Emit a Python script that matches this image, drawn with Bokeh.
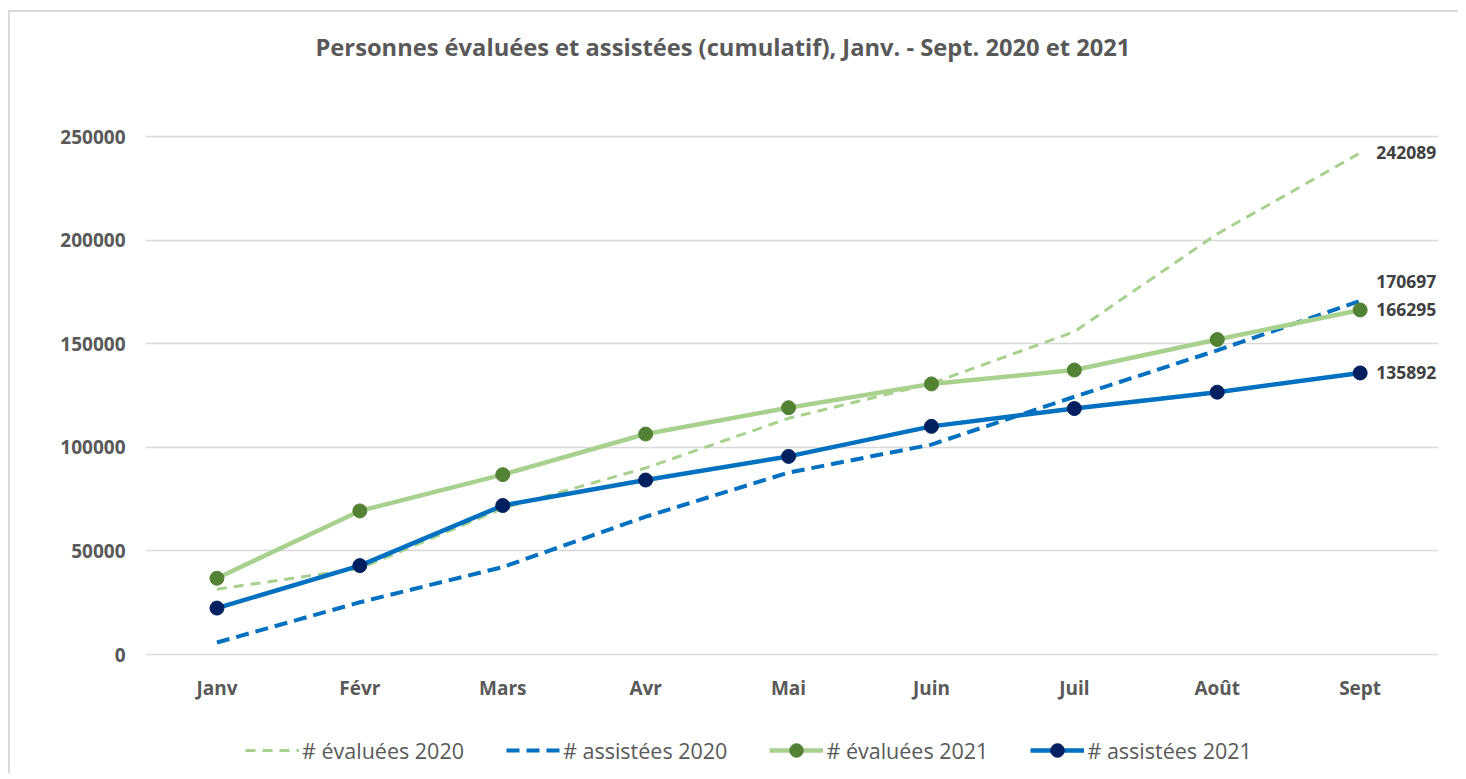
from bokeh.plotting import figure
from bokeh.models import (ColumnDataSource, Range1d, FixedTicker, Label,
                          BasicTickFormatter, Legend, LegendItem, LabelSet)
from bokeh.core.properties import value
from bokeh.embed import file_html
from bokeh.resources import INLINE

# ---------------- data ----------------
months = ["Janv", "Févr", "Mars", "Avr", "Mai", "Juin", "Juil", "Août", "Sept"]
evaluees_2020 = [31500, 41500, 70500, 90000, 114000, 130800, 155800, 203000, 242089]
assistees_2020 = [5800, 25200, 42200, 66500, 87800, 101300, 124400, 146800, 170697]
evaluees_2021 = [36800, 69300, 86800, 106400, 119100, 130600, 137300, 152000, 166295]
assistees_2021 = [22400, 42900, 71900, 84200, 95600, 110100, 118700, 126600, 135892]
y_ticks = [0, 50000, 100000, 150000, 200000, 250000]
series_names = ["# évaluées 2020", "# assistées 2020", "# évaluées 2021", "# assistées 2021"]
title_text = "Personnes évaluées et assistées (cumulatif), Janv. - Sept. 2020 et 2021"

# ---------------- styles / layout ----------------
FONT = "Open Sans"
TXT = "#595959"
LIGHT_GREEN = "#A9D18E"
DARK_GREEN = "#548235"
BLUE = "#0070C0"
NAVY = "#002060"
GRID = "#D9D9D9"

W, H = 1450, 763
TOP, BOTTOM, LEFT, RIGHT = 2, 4, 135, 22
ZERO_Y = 642.0      # canvas pixel row of the value 0
PLOT_H = 518.0      # pixel height of the 0..max value band
CAT_W = 142.9       # pixel width of one month slot
frame_w = W - LEFT - RIGHT
frame_h = H - TOP - BOTTOM
y_max = y_ticks[-1]
y_top = y_max * (ZERO_Y - TOP) / PLOT_H             # room above for the title
y_bottom = -y_max * (H - BOTTOM - ZERO_Y) / PLOT_H  # room below for labels + legend
x_start = -0.5
x_end = x_start + frame_w / CAT_W                   # room right of Sept for value labels

x_idx = list(range(len(months)))
src = ColumnDataSource(dict(x=x_idx, month=months, e20=evaluees_2020, a20=assistees_2020,
                            e21=evaluees_2021, a21=assistees_2021))

p = figure(width=W, height=H, x_range=Range1d(x_start, x_end),
           y_range=Range1d(y_bottom, y_top), output_backend="svg", toolbar_location=None,
           min_border_left=LEFT, min_border_right=RIGHT, min_border_top=TOP,
           min_border_bottom=BOTTOM)
p.title = None
p.styles = {"margin-top": "10px", "margin-left": "8px",
            "border-top": "2px solid #D9D9D9", "border-left": "2px solid #D9D9D9"}

# chart title (drawn inside the extended frame, in screen pixels from frame bottom-left)
p.add_layout(Label(x=170, y=frame_h - 32, x_units="screen", y_units="screen",
                   text=title_text, text_font=FONT, text_font_size="23.7px",
                   text_font_style="bold", text_color=TXT, text_baseline="middle",
                   text_align="left"))

p.outline_line_color = None
p.xgrid.grid_line_color = None
p.ygrid.grid_line_color = GRID
p.ygrid.grid_line_width = 1.5

p.yaxis.ticker = FixedTicker(ticks=y_ticks)
p.yaxis.formatter = BasicTickFormatter(use_scientific=False)
p.xaxis.ticker = FixedTicker(ticks=x_idx)
p.xaxis.major_label_overrides = {i: m for i, m in zip(x_idx, months)}
p.xaxis.fixed_location = 0
for ax in (p.xaxis, p.yaxis):
    ax.axis_line_color = None
    ax.major_tick_line_color = None
    ax.minor_tick_line_color = None
    ax.major_tick_out = 0
    ax.major_tick_in = 0
    ax.major_label_text_font = FONT
    ax.major_label_text_font_style = "bold"
    ax.major_label_text_color = TXT
    ax.major_label_text_font_size = "19px"
p.yaxis.major_label_standoff = 20
p.xaxis.major_label_standoff = 20

r_e20 = p.line("x", "e20", source=src, line_color=LIGHT_GREEN, line_width=3,
               line_dash="10 7")
r_a20 = p.line("x", "a20", source=src, line_color=BLUE, line_width=4,
               line_dash="13 7")
r_e21 = p.line("x", "e21", source=src, line_color=LIGHT_GREEN, line_width=4.5)
m_e21 = p.scatter("x", "e21", source=src, size=14, fill_color=DARK_GREEN,
                  line_color=DARK_GREEN)
r_a21 = p.line("x", "a21", source=src, line_color=BLUE, line_width=4.5)
m_a21 = p.scatter("x", "a21", source=src, size=14, fill_color=NAVY,
                  line_color=NAVY)

# end-of-series value labels
last = [evaluees_2020[-1], assistees_2020[-1], evaluees_2021[-1], assistees_2021[-1]]
lab_src = ColumnDataSource(dict(x=[x_idx[-1]] * 4, y=last, text=[str(v) for v in last],
                                dy=[0, 19, 0, 0]))
labels = LabelSet(x="x", y="y", text="text", source=lab_src, x_offset=16, y_offset="dy",
                  text_baseline="middle", text_align="left", text_font=value(FONT),
                  text_font_size=value("17.5px"), text_font_style=value("bold"),
                  text_color=value("#404040"))
p.add_layout(labels)

legend = Legend(items=[
    LegendItem(label=series_names[0], renderers=[r_e20]),
    LegendItem(label=series_names[1], renderers=[r_a20]),
    LegendItem(label=series_names[2], renderers=[r_e21, m_e21]),
    LegendItem(label=series_names[3], renderers=[r_a21, m_a21]),
], orientation="horizontal", location=(100, 4), glyph_width=54, glyph_height=34,
    label_height=34, label_standoff=3, spacing=42, padding=0, margin=0,
    border_line_color=None, background_fill_alpha=0, label_text_font=FONT,
    label_text_font_size="21.5px", label_text_color=TXT)
p.add_layout(legend)

open("out.html", "w").write(file_html(p, INLINE))
